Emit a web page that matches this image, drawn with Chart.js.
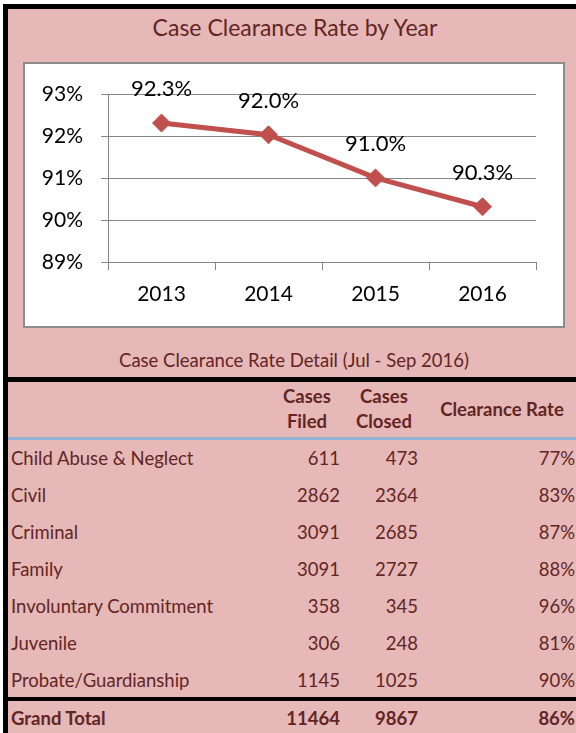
<!DOCTYPE html>
<html>
<head>
<meta charset="utf-8">
<script src="https://cdn.jsdelivr.net/npm/chart.js@4"></script>
<style>
  html, body { margin: 0; padding: 0; width: 576px; height: 733px; overflow: hidden; background: #fff; font-family: Lato, "Open Sans", sans-serif; }
  .abs { position: absolute; }
  #pink { left: 8px; top: 9px; width: 568px; height: 724px; background: #E6B8B7; }
  .black { background: #000; }
  .txt { color: #632523; text-align: center; white-space: nowrap; }
  #box { left: 23px; top: 62px; width: 542px; height: 266px; box-sizing: border-box; border: 2px solid #8c8c8c; background: #fff; }
  #chartWrap { left: 25px; top: 64px; width: 538px; height: 262px; }
  .row { position: absolute; left: 8px; width: 568px; color: #632523; font-size: 18.5px; }
  .row div { position: absolute; top: 0; white-space: nowrap; }
  .c1 { left: 3px; }
  .c2 { right: 236px; }
  .c3 { right: 158px; }
  .c4 { right: 1px; }
  .bold { font-weight: bold; }
</style>
</head>
<body>
<div id="pink" class="abs"></div>
<div class="abs black" style="left:3px;top:4px;width:573px;height:5px"></div>
<div class="abs black" style="left:3px;top:4px;width:5px;height:729px"></div>
<div class="abs black" style="left:3px;top:377px;width:573px;height:5px"></div>
<div class="abs black" style="left:3px;top:697px;width:573px;height:4px"></div>
<div class="abs" style="left:8px;top:437px;width:568px;height:3px;background:#95B3D7"></div>

<div class="abs txt" style="left:10px;top:12px;width:570px;font-size:23px;line-height:30px">Case Clearance Rate by Year</div>
<div id="box" class="abs"></div>
<div id="chartWrap" class="abs"><canvas id="rateChart"></canvas></div>
<div class="abs txt" style="left:10px;top:348px;width:568px;font-size:18.5px;line-height:24px">Case Clearance Rate Detail (Jul - Sep 2016)</div>

<div id="table"></div>

<script>
// yearly clearance rate
const years = ['2013', '2014', '2015', '2016'];
const clearanceRate = [92.32, 92.04, 91.01, 90.32];

// detail table (Jul - Sep 2016)
const caseTypes = ['Child Abuse & Neglect', 'Civil', 'Criminal', 'Family', 'Involuntary Commitment', 'Juvenile', 'Probate/Guardianship'];
const casesFiled = [611, 2862, 3091, 3091, 358, 306, 1145];
const casesClosed = [473, 2364, 2685, 2727, 345, 248, 1025];
const rateDetail = ['77%', '83%', '87%', '88%', '96%', '81%', '90%'];
const grandTotal = ['Grand Total', 11464, 9867, '86%'];

// header
let table = document.getElementById('table');
let head = document.createElement('div');
head.className = 'row bold';
head.style.top = '384px';
head.style.height = '50px';
head.innerHTML =
    '<div style="left:260px;width:78px;text-align:center;line-height:25px">Cases<br>Filed</div>' +
    '<div style="left:337px;width:78px;text-align:center;line-height:25px">Cases<br>Closed</div>' +
    '<div style="left:420px;width:148px;text-align:center;line-height:50px">Clearance Rate</div>';
table.appendChild(head);

function addRow(cells, top, height, bold) {
    let r = document.createElement('div');
    r.className = 'row' + (bold ? ' bold' : '');
    r.style.top = top + 'px';
    r.style.height = height + 'px';
    r.style.lineHeight = height + 'px';
    r.innerHTML = '<div class="c1">' + cells[0] + '</div><div class="c2">' + cells[1] +
        '</div><div class="c3">' + cells[2] + '</div><div class="c4">' + cells[3] + '</div>';
    table.appendChild(r);
}
caseTypes.forEach((name, i) => {
    addRow([name, casesFiled[i], casesClosed[i], rateDetail[i]], 440 + i * 37, 37, false);
});
addRow(grandTotal, 701, 34, true);

// value labels above the points
const pointLabels = {
    id: 'pointLabels',
    afterDatasetsDraw(chart) {
        let ctx = chart.ctx;
        let meta = chart.getDatasetMeta(0);
        ctx.save();
        ctx.font = '22px Lato';
        ctx.fillStyle = '#000';
        ctx.textAlign = 'center';
        ctx.textBaseline = 'middle';
        meta.data.forEach((pt, i) => {
            ctx.fillText(clearanceRate[i].toFixed(1) + '%', pt.x, pt.y - 34);
        });
        ctx.restore();
    }
};

let ctx = document.getElementById('rateChart').getContext('2d');
let myChart = new Chart(ctx, {
    type: 'line',
    data: {
        labels: years,
        datasets: [{
            data: clearanceRate,
            borderColor: '#C0504D',
            backgroundColor: '#C0504D',
            borderWidth: 5,
            pointStyle: 'rectRot',
            pointRadius: 9,
            pointHoverRadius: 9,
            pointBorderWidth: 1,
            tension: 0,
            clip: false
        }]
    },
    options: {
        responsive: true,
        maintainAspectRatio: false,
        animation: false,
        events: [],
        layout: { padding: { top: 27, right: 27, left: 0, bottom: 0 } },
        plugins: {
            legend: { display: false },
            tooltip: { enabled: false }
        },
        scales: {
            x: {
                offset: true,
                grid: { offset: true, drawOnChartArea: false, tickLength: 8, color: '#868686', lineWidth: 1 },
                border: { display: true, color: '#868686', width: 1 },
                ticks: { color: '#000', font: { family: 'Lato', size: 21 }, padding: 12, maxRotation: 0 },
                afterFit: (s) => { s.height = 64; }
            },
            y: {
                min: 89,
                max: 93,
                ticks: { stepSize: 1, callback: (v) => v + '%', color: '#000', font: { family: 'Lato', size: 21 }, padding: 18 },
                grid: { color: '#868686', lineWidth: 1, tickLength: 7 },
                border: { display: true, color: '#868686', width: 1 },
                afterFit: (s) => { s.width = 83; }
            }
        }
    },
    plugins: [pointLabels]
});
</script>
</body>
</html>
